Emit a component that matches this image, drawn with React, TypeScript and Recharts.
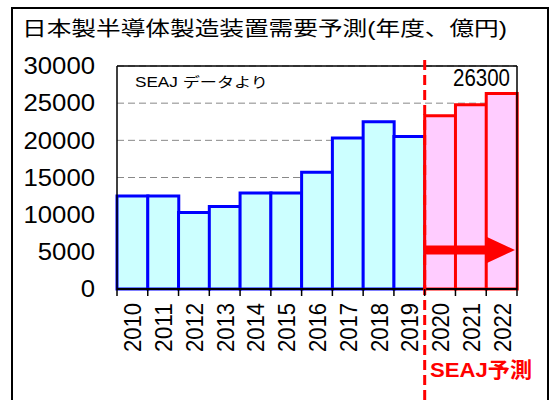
import React from 'react';
import { BarChart, Bar, XAxis, YAxis, CartesianGrid, Cell, ReferenceLine, ReferenceArea } from 'recharts';

const years = ['2010', '2011', '2012', '2013', '2014', '2015', '2016', '2017', '2018', '2019', '2020', '2021', '2022'];
const demand = [12500, 12500, 10300, 11100, 12900, 12900, 15700, 20300, 22500, 20500, 23300, 24800, 26300];
const forecastFrom = '2020';
const lastYear = '2022';
const yTicks = [0, 5000, 10000, 15000, 20000, 25000, 30000];
const arrowRange = [3500, 7000];
const title = '日本製半導体製造装置需要予測(年度、億円)';
const sourceNote = 'SEAJ データより';
const forecastNote = 'SEAJ予測';
const peakLabel = '26300';

const data = years.map((y, i) => ({ year: y, value: demand[i], forecast: Number(y) >= Number(forecastFrom) }));

const FONT = '"Liberation Sans", "Noto Sans CJK JP", sans-serif';
const W = 552;
const H = 400;
const M = { top: 66, right: 35, bottom: 0, left: 0 };
const Y_W = 117;
const X_H = 111;
const BAND = (W - M.right - Y_W) / years.length;

function XTick(props: any) {
  const { x, y, payload, index } = props;
  const tx = x + 9;
  const ty = y + 14;
  return (
    <g>
      <line x1={x - BAND / 2} x2={x - BAND / 2} y1={y} y2={y + 7} stroke="#000" strokeWidth={1.5} />
      {index === years.length - 1 && (
        <line x1={x + BAND / 2} x2={x + BAND / 2} y1={y} y2={y + 7} stroke="#000" strokeWidth={1.5} />
      )}
      <text
        x={tx}
        y={ty}
        transform={`rotate(-90, ${tx}, ${ty})`}
        textAnchor="end"
        fontFamily={FONT}
        fontSize={23}
        fill="#000"
        textLength={49}
        lengthAdjust="spacingAndGlyphs"
      >
        {payload.value}
      </text>
    </g>
  );
}

function YTick(props: any) {
  const { x, y, payload } = props;
  const s = String(payload.value);
  return (
    <text
      x={x}
      y={y}
      dy="0.36em"
      textAnchor="end"
      fontFamily={FONT}
      fontSize={23}
      fill="#000"
      textLength={s.length * 14.3}
      lengthAdjust="spacingAndGlyphs"
    >
      {s}
    </text>
  );
}

function ForecastDivider(props: any) {
  const { x1, y1, y2 } = props;
  const top = Math.min(y1, y2);
  const bottom = Math.max(y1, y2);
  return (
    <line x1={x1} x2={x1} y1={top - 6} y2={bottom + 115} stroke="#ff0000" strokeWidth={3} strokeDasharray="10 5" />
  );
}

function Arrow(props: any) {
  const { x, y, width, height } = props;
  const tip = x + width - 2;
  const base = tip - 28;
  const cy = y + height / 2;
  const sh = 4.5;
  return (
    <path
      d={`M${x},${cy - sh} L${base},${cy - sh} L${base},${y} L${tip},${cy} L${base},${y + height} L${base},${cy + sh} L${x},${cy + sh} Z`}
      fill="#ff0000"
    />
  );
}

export default function App() {
  return (
    <div style={{ position: 'absolute', left: 0, top: 0, width: W, height: H, background: '#fff', overflow: 'hidden' }}>
      <BarChart width={W} height={H} data={data} margin={M} barCategoryGap={0} barGap={0}>
        <CartesianGrid horizontal vertical={false} stroke="#888" strokeDasharray="7 4" strokeWidth={1} />
        <XAxis
          dataKey="year"
          interval={0}
          height={X_H}
          tickLine={false}
          tickSize={0}
          tickMargin={0}
          axisLine={{ stroke: '#000', strokeWidth: 2 }}
          tick={<XTick />}
        />
        <YAxis
          width={Y_W}
          domain={[0, 30000]}
          ticks={yTicks}
          interval={0}
          tickLine={false}
          tickSize={0}
          tickMargin={22}
          axisLine={{ stroke: '#000', strokeWidth: 1.5 }}
          tick={<YTick />}
        />
        <Bar dataKey="value" isAnimationActive={false} strokeWidth={3}>
          {data.map((d) => (
            <Cell key={d.year} fill={d.forecast ? '#ffccff' : '#ccffff'} stroke={d.forecast ? '#ff0000' : '#0000ff'} />
          ))}
        </Bar>
        <ReferenceLine y={30000} stroke="#000" strokeWidth={1.5} />
        <ReferenceLine x={lastYear} position="end" stroke="#000" strokeWidth={1.5} />
        <ReferenceLine x={forecastFrom} position="start" shape={(p: any) => <ForecastDivider {...p} />} zIndex={1600} />
        <ReferenceArea
          x1={forecastFrom}
          x2={lastYear}
          y1={arrowRange[0]}
          y2={arrowRange[1]}
          shape={(p: any) => <Arrow {...p} />}
          zIndex={1500}
        />
      </BarChart>
      <svg width={W} height={H} style={{ position: 'absolute', left: 0, top: 0, pointerEvents: 'none' }}>
        <rect x={12} y={8} width={536} height={420} fill="none" stroke="#000" strokeWidth={2} />
        <text x={22} y={36} fontFamily={FONT} fontSize={20} fill="#000" textLength={485} lengthAdjust="spacingAndGlyphs">
          {title}
        </text>
        <text x={135} y={87} fontFamily={FONT} fontSize={14} fill="#000" textLength={133} lengthAdjust="spacingAndGlyphs">
          {sourceNote}
        </text>
        <text x={510} y={86} textAnchor="end" fontFamily={FONT} fontSize={23} fill="#000" textLength={57} lengthAdjust="spacingAndGlyphs">
          {peakLabel}
        </text>
        <text x={430} y={377} fontFamily={FONT} fontSize={21} fontWeight="bold" fill="#ff0000" textLength={102} lengthAdjust="spacingAndGlyphs">
          {forecastNote}
        </text>
      </svg>
    </div>
  );
}
